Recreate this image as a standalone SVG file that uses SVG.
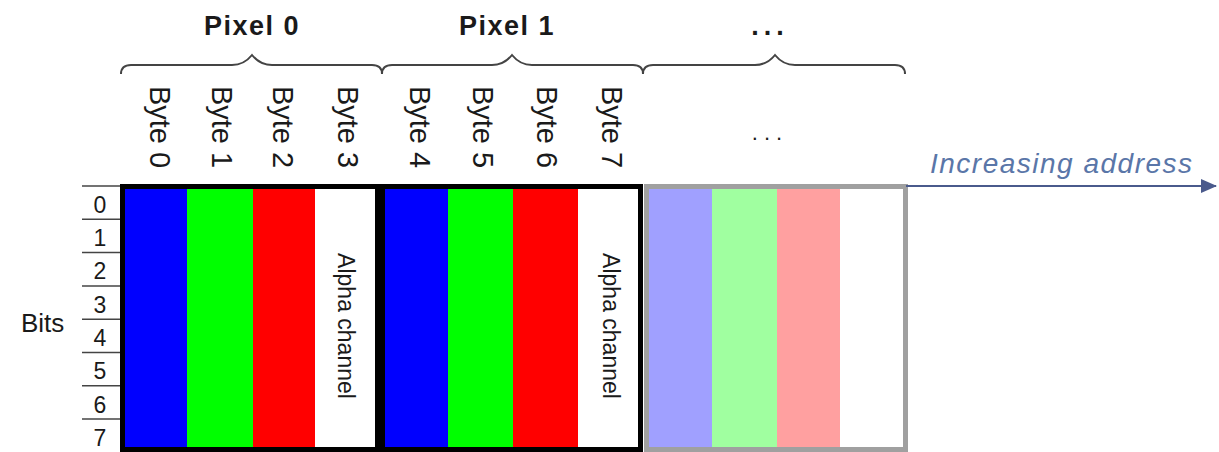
<svg xmlns="http://www.w3.org/2000/svg" width="1219" height="452" viewBox="0 0 1219 452">
<style>
  text { font-family: "Liberation Sans", Arial, sans-serif; fill: #1a1a1a; }
  .title { font-size: 27px; font-weight: bold; letter-spacing: 1.5px; text-anchor: middle; }
  .byte { font-size: 29px; text-anchor: middle; }
  .alpha { font-size: 23px; text-anchor: middle; }
  .bit { font-size: 23px; text-anchor: middle; }
  .brace { fill: none; stroke: #444; stroke-width: 2; }
  .tick { stroke: #444; stroke-width: 1.5; }
  .frame { fill: none; stroke: #000; stroke-width: 5; }
  .frame3 { fill: none; stroke: #a0a0a0; stroke-width: 5; }
</style>
<defs>
  <marker id="arrowhead" markerWidth="16" markerHeight="14" refX="15" refY="7" orient="auto" markerUnits="userSpaceOnUse" viewBox="0 0 16 14">
    <path d="M0,0 L16,7 L0,14 Z" fill="#4a5a8c"/>
  </marker>
</defs>
<rect width="1219" height="452" fill="#fff"/>

<g id="pixel0-header">
  <text class="title" x="252" y="35">Pixel 0</text>
  <path class="brace" d="M121,74 Q121,65 131,65 L232,65 Q244,65 252,55 Q260,65 272,65 L372,65 Q382,65 382,74"/>
</g>
<g id="pixel1-header">
  <text class="title" x="507" y="35">Pixel 1</text>
  <path class="brace" d="M382,74 Q382,65 392,65 L492,65 Q504,65 512,55 Q520,65 532,65 L633,65 Q643,65 643,74"/>
</g>
<g id="more-header">
  <text class="title" x="770" y="35" style="letter-spacing:5px">...</text>
  <path class="brace" d="M643,74 Q643,65 653,65 L755,65 Q767,65 775,55 Q783,65 795,65 L895,65 Q905,65 905,74"/>
</g>

<g id="byte-labels">
  <text class="byte" transform="translate(150,127) rotate(90)">Byte 0</text>
  <text class="byte" transform="translate(212,127) rotate(90)">Byte 1</text>
  <text class="byte" transform="translate(273,127) rotate(90)">Byte 2</text>
  <text class="byte" transform="translate(338,127) rotate(90)">Byte 3</text>
  <text class="byte" transform="translate(410,127) rotate(90)">Byte 4</text>
  <text class="byte" transform="translate(473,127) rotate(90)">Byte 5</text>
  <text class="byte" transform="translate(537,127) rotate(90)">Byte 6</text>
  <text class="byte" transform="translate(602,127) rotate(90)">Byte 7</text>
  <text x="770" y="140" style="font-size:22px;letter-spacing:6px;text-anchor:middle">...</text>
</g>

<g id="bits-axis">
  <text x="21" y="332" style="font-size:26px">Bits</text>
  <line class="tick" x1="82" y1="186" x2="120" y2="186"/>
  <line class="tick" x1="82" y1="219.3" x2="120" y2="219.3"/>
  <line class="tick" x1="82" y1="252.6" x2="120" y2="252.6"/>
  <line class="tick" x1="82" y1="285.9" x2="120" y2="285.9"/>
  <line class="tick" x1="82" y1="319.2" x2="120" y2="319.2"/>
  <line class="tick" x1="82" y1="352.5" x2="120" y2="352.5"/>
  <line class="tick" x1="82" y1="385.8" x2="120" y2="385.8"/>
  <line class="tick" x1="82" y1="419.1" x2="120" y2="419.1"/>
  <text class="bit" x="100" y="213">0</text>
  <text class="bit" x="100" y="246">1</text>
  <text class="bit" x="100" y="279">2</text>
  <text class="bit" x="100" y="313">3</text>
  <text class="bit" x="100" y="346">4</text>
  <text class="bit" x="100" y="379">5</text>
  <text class="bit" x="100" y="413">6</text>
  <text class="bit" x="100" y="446">7</text>
</g>

<g id="pixel0">
  <rect x="122" y="186" width="65" height="266" fill="#0000ff"/>
  <rect x="187" y="186" width="66" height="266" fill="#00ff00"/>
  <rect x="253" y="186" width="62" height="266" fill="#ff0000"/>
  <rect x="315" y="186" width="63" height="266" fill="#ffffff"/>
  <text class="alpha" transform="translate(338,326) rotate(90)">Alpha channel</text>
  <rect class="frame" x="122.5" y="186.5" width="255" height="263"/>
</g>

<g id="pixel1">
  <rect x="383" y="186" width="65" height="266" fill="#0000ff"/>
  <rect x="448" y="186" width="65" height="266" fill="#00ff00"/>
  <rect x="513" y="186" width="65" height="266" fill="#ff0000"/>
  <rect x="578" y="186" width="62" height="266" fill="#ffffff"/>
  <text class="alpha" transform="translate(603,326) rotate(90)">Alpha channel</text>
  <rect class="frame" x="382.5" y="186.5" width="258" height="263"/>
</g>

<g id="pixel-more">
  <rect x="647" y="186" width="65" height="266" fill="#a0a0ff"/>
  <rect x="712" y="186" width="65" height="266" fill="#a0ffa0"/>
  <rect x="777" y="186" width="63" height="266" fill="#ffa0a0"/>
  <rect x="840" y="186" width="62" height="266" fill="#ffffff"/>
  <rect class="frame3" x="646.5" y="186.5" width="259" height="263"/>
</g>

<g id="connectors">
  <line x1="906" y1="186" x2="1216" y2="186" stroke="#4a5a8c" stroke-width="2" marker-end="url(#arrowhead)"/>
  <text x="930" y="173" style="font-size:28px;font-style:italic;fill:#5a76a8;letter-spacing:1.5px">Increasing address</text>
</g>
</svg>
